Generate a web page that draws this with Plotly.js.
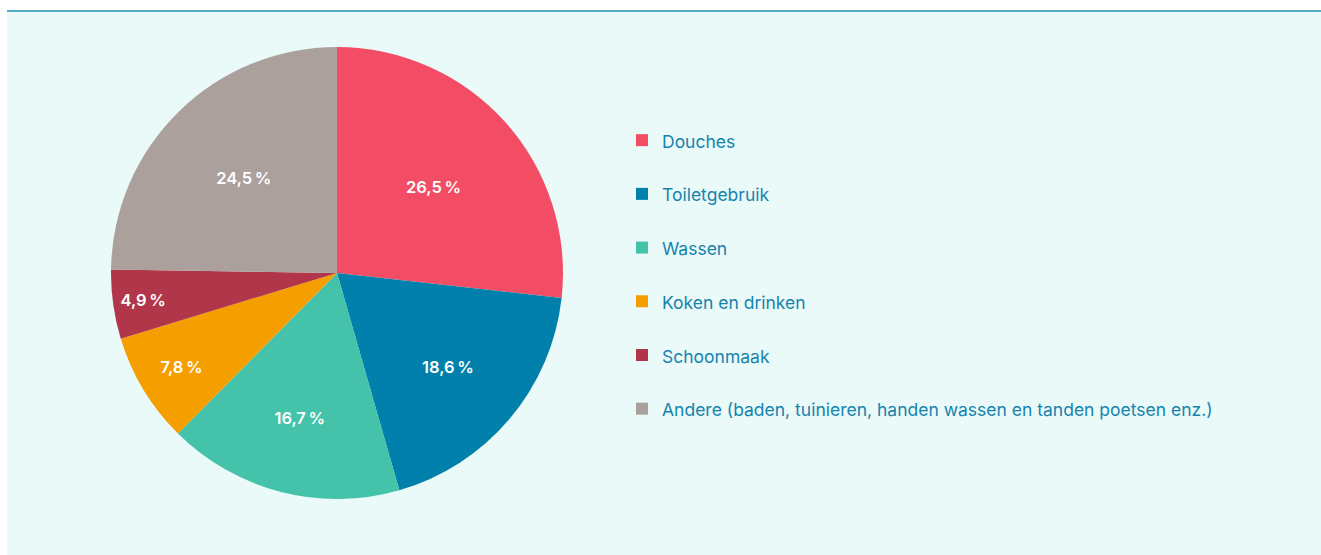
<!DOCTYPE html>
<html>
<head>
<meta charset="utf-8">
<script src="https://cdn.plot.ly/plotly-3.0.1.min.js"></script>
<style>
  html, body { margin: 0; padding: 0; background: #ffffff; width: 1321px; height: 555px; overflow: hidden; }
  #panel { position: absolute; left: 7px; top: 10px; width: 1314px; height: 545px; border-top: 2px solid #4eaac6; box-sizing: border-box; background: #e9faf9; }
  #chart { position: absolute; left: 0; top: 0; width: 1314px; height: 543px; }
</style>
</head>
<body>
<div id="panel"><div id="chart"></div></div>
<script>
const categories = ["Douches", "Toiletgebruik", "Wassen", "Koken en drinken", "Schoonmaak",
                    "Andere (baden, tuinieren, handen wassen en tanden poetsen enz.)"];
const shares = [26.5, 18.6, 16.7, 7.8, 4.9, 24.5];
const colors = ["#f24d64", "#0080ab", "#45c3aa", "#f59e00", "#b23649", "#aba09c"];

const legendLabels = categories.map(c => '<span style="font-size:17.5px">' + c + '</span><br>\u00a0');

const W = 1314, H = 543;
const cx = 330, cy = 261, r = 226; // pie centre/radius in panel pixels

const trace = {
  type: 'pie',
  labels: legendLabels,
  values: shares,
  sort: false,
  direction: 'clockwise',
  rotation: 0,
  marker: { colors: colors, line: { width: 0 } },
  textposition: 'inside',
  insidetextorientation: 'horizontal',
  texttemplate: '%{value:.1f}\u202f%',
  textfont: { family: 'Inter, "Open Sans", sans-serif', size: 16.5, color: '#ffffff', weight: 600 },
  hovertemplate: '%{value:.1f} %<extra></extra>',
  domain: { x: [(cx - r) / W, (cx + r) / W], y: [(H - cy - r) / H, (H - cy + r) / H] }
};

const layout = {
  width: W, height: H,
  margin: { l: 0, r: 0, t: 0, b: 0 },
  paper_bgcolor: 'rgba(0,0,0,0)',
  plot_bgcolor: 'rgba(0,0,0,0)',
  separators: ',.',
  showlegend: true,
  legend: {
    x: 615 / W, y: (H - 109) / H, xanchor: 'left', yanchor: 'top',
    bgcolor: 'rgba(0,0,0,0)', borderwidth: 0,
    valign: 'top',
    font: { family: 'Inter, "Open Sans", sans-serif', size: 19.5, color: '#1683ad' }
  },
  font: { family: 'Inter, "Open Sans", sans-serif' }
};

Plotly.newPlot('chart', [trace], layout, { displayModeBar: false, staticPlot: true });
</script>
</body>
</html>
